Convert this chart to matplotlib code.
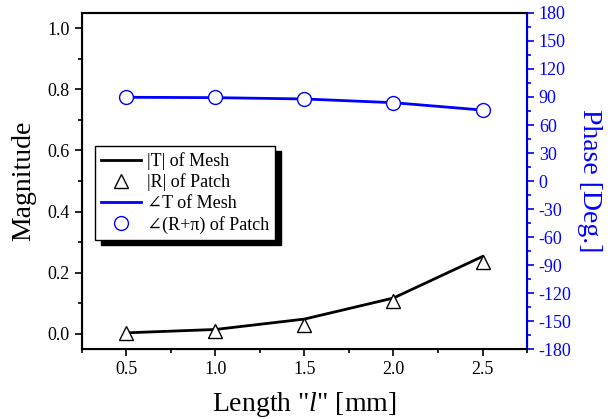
import matplotlib
matplotlib.use("Agg")
import matplotlib.pyplot as plt
from matplotlib.ticker import MultipleLocator

plt.rcParams['font.family'] = ['Liberation Serif', 'DejaVu Serif', 'DejaVu Sans']
plt.rcParams['mathtext.fontset'] = 'custom'
plt.rcParams['mathtext.rm'] = 'Liberation Serif'
plt.rcParams['mathtext.it'] = 'Liberation Serif:italic'
plt.rcParams['axes.unicode_minus'] = False

# data
length = [0.5, 1.0, 1.5, 2.0, 2.5]
t_mesh = [0.003, 0.014, 0.048, 0.117, 0.253]
r_patch = [0.003, 0.010, 0.029, 0.108, 0.234]
phase_t_mesh = [89.7, 89.3, 87.9, 83.9, 76.0]
phase_r_patch = [90.0, 89.5, 88.0, 84.0, 76.0]

fig, ax = plt.subplots(figsize=(6.15, 4.19), dpi=100)
fig.subplots_adjust(left=0.133, right=0.857, top=0.969, bottom=0.167)
ax2 = ax.twinx()

l1, = ax.plot(length, t_mesh, color="black", lw=2, label="|T| of Mesh")
l2, = ax.plot(length, r_patch, ls="none", marker="^", ms=10, mfc="white",
              mec="black", mew=1, label="|R| of Patch")
l3, = ax2.plot(length, phase_t_mesh, color="blue", lw=2, label="\u2220T of Mesh")
l4, = ax2.plot(length, phase_r_patch, ls="none", marker="o", ms=10, mfc="white",
               mec="blue", mew=1, label="\u2220(R+\u03c0) of Patch")

ax.set_xlim(0.25, 2.75)
ax.set_ylim(-0.05, 1.05)
ax2.set_ylim(-180, 180)

ax.xaxis.set_major_locator(MultipleLocator(0.5))
ax.xaxis.set_minor_locator(MultipleLocator(0.25))
ax.yaxis.set_major_locator(MultipleLocator(0.2))
ax.yaxis.set_minor_locator(MultipleLocator(0.1))
ax2.yaxis.set_major_locator(MultipleLocator(30))
ax2.yaxis.set_minor_locator(MultipleLocator(15))
ax.xaxis.set_major_formatter(plt.FormatStrFormatter("%.1f"))
ax.yaxis.set_major_formatter(plt.FormatStrFormatter("%.1f"))

ax.tick_params(axis="both", which="both", direction="out", labelsize=13, width=1.2)
ax.tick_params(which="major", length=5)
ax.tick_params(which="minor", length=3)
ax2.tick_params(axis="y", which="both", direction="out", colors="blue",
                labelsize=13, width=1.2)
ax2.tick_params(which="major", length=5)
ax2.tick_params(which="minor", length=3)

for s in ["left", "bottom", "top"]:
    ax.spines[s].set_linewidth(1.5)
ax2.spines["right"].set_color("blue")
ax2.spines["right"].set_linewidth(1.5)
ax2.spines["top"].set_linewidth(1.5)

ax.set_xlabel('Length "$\\it{l}$" [mm]', fontsize=20, labelpad=9)
ax.set_ylabel("Magnitude", fontsize=20, labelpad=8)
ax2.set_ylabel("Phase [Deg.]", fontsize=20, color="blue", rotation=270, labelpad=22)

leg = ax.legend(handles=[l1, l2, l3, l4], loc="upper left",
                bbox_to_anchor=(0.03, 0.605), fontsize=13, frameon=True,
                fancybox=False, shadow={"color": "black", "alpha": 1, "ox": 4, "oy": -4},
                handlelength=2.2, handletextpad=0.3, labelspacing=0.2,
                borderpad=0.35, edgecolor="black", borderaxespad=0)
leg.get_frame().set_linewidth(1)
leg.set_zorder(10)
ax.set_zorder(ax2.get_zorder() + 1)
ax.patch.set_visible(False)

fig.savefig("out.png", dpi=100)
